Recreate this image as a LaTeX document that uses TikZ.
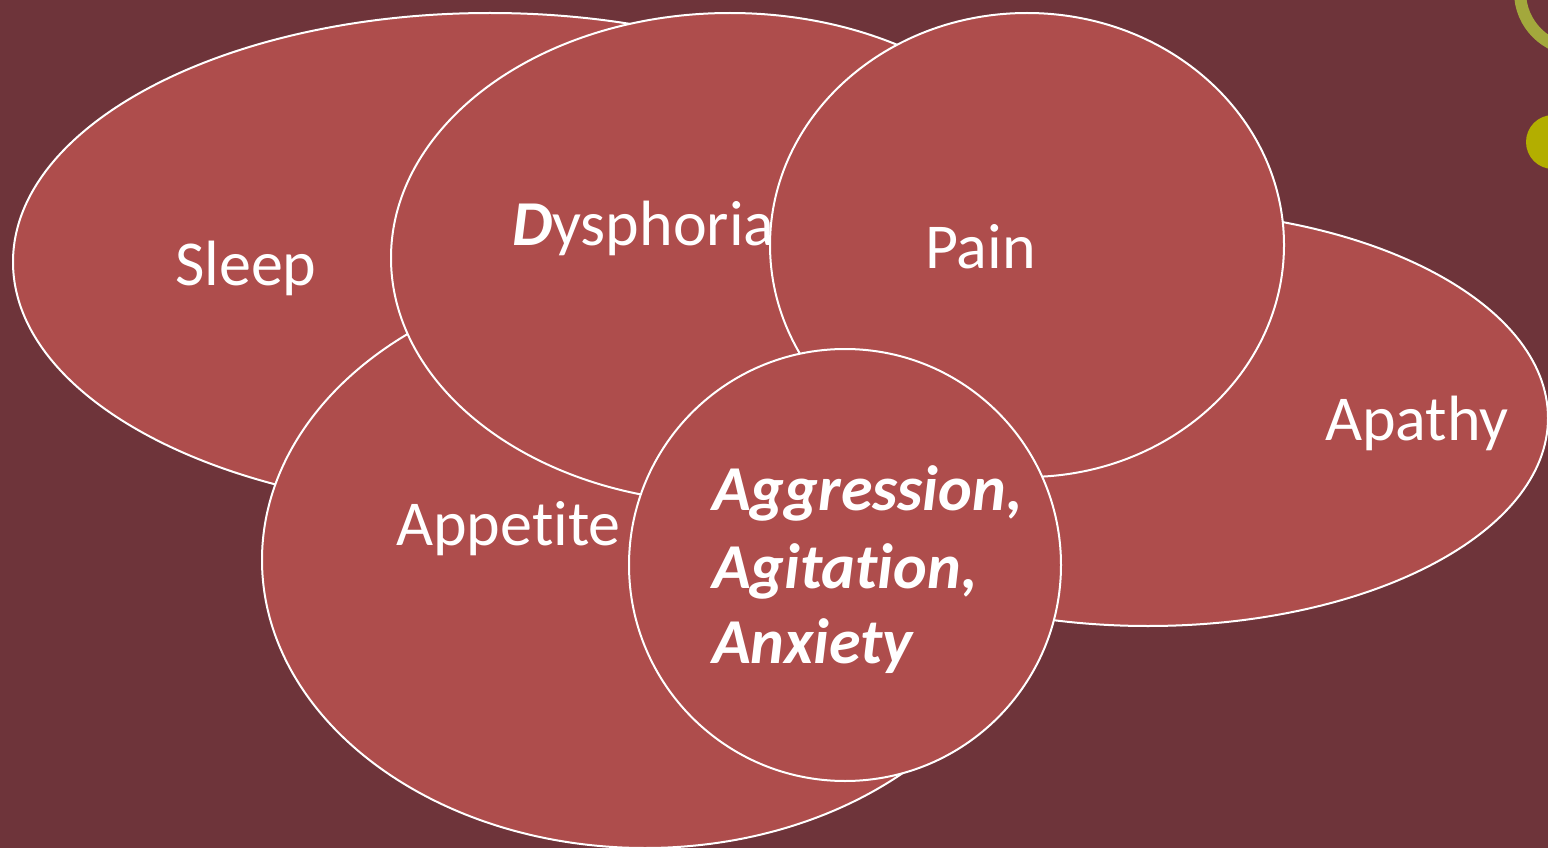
\documentclass[tikz,border=0pt]{standalone}
\usepackage{fontspec}
\setmainfont[RawFeature=-liga]{Carlito}
\usetikzlibrary{shapes.geometric}
\definecolor{bgc}{HTML}{6E343A}
\definecolor{fillc}{HTML}{AE4D4C}
\definecolor{ringc}{HTML}{A3A83C}
\definecolor{dotc}{HTML}{B3AE00}
\begin{document}
\begin{tikzpicture}[x=1pt,y=-1pt,
  blob/.style={ellipse, draw=white, line width=2pt, fill=fillc, inner sep=0pt},
  lbl/.style={text=white, font=\fontsize{64}{77}\selectfont, anchor=base west, inner sep=0pt},
  lblbi/.style={text=white, font=\fontsize{64}{77}\selectfont\bfseries\itshape, anchor=base west, inner sep=0pt, align=left}]
\useasboundingbox (0,0) rectangle (1548,848);
\clip (0,0) rectangle (1548,848);
\fill[bgc] (0,0) rectangle (1548,848);
% decorations top right
\draw[ringc, line width=12pt] (1578,-8) circle[radius=58];
\fill[dotc] (1553,142) circle[radius=27];
% shapes
\node[blob, minimum width=954, minimum height=498] (sleep) at (490,262) {};
\node[blob, minimum width=800, minimum height=416] (apathy) at (1148,418) {};
\node[blob, minimum width=766, minimum height=576] (appetite) at (645,560) {};
\node[blob, minimum width=678, minimum height=490] (dysphoria) at (730,258) {};
\node[blob, minimum width=514, minimum height=464] (pain) at (1027,245) {};
\node[blob, minimum width=432, minimum height=432] (aaa) at (845,565) {};
% labels
\node[lbl] (tsleep) at (175,285) {Sleep};
\node[lbl] (tdys) at (512,245) {\textbf{\textit{D}}ysphoria};
\node[lbl] (tpain) at (925,268) {Pain};
\node[lbl] (tapathy) at (1325,440) {Apathy};
\node[lbl] (tappetite) at (396,545) {Appetite};
\node[lblbi] (tagg) at (712,510) {Aggression,};
\node[lblbi] (tagi) at (712,588) {Agitation,};
\node[lblbi] (tanx) at (712,663) {Anxiety};
\end{tikzpicture}
\end{document}
